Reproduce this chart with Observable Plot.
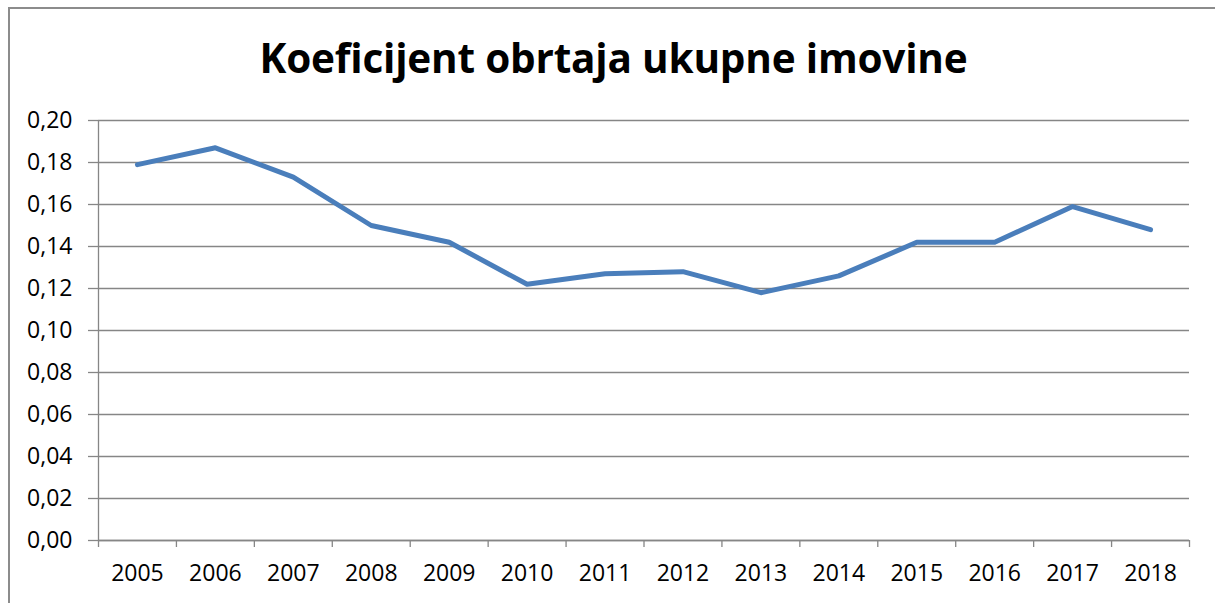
<!DOCTYPE html>
<html>
<head>
<meta charset="utf-8">
<script src="https://cdn.jsdelivr.net/npm/d3@7"></script>
<script src="https://cdn.jsdelivr.net/npm/@observablehq/plot@0.6"></script>
<style>
  html, body { margin: 0; padding: 0; background: #fff; }
  #wrap { position: relative; width: 1215px; height: 603px; overflow: hidden; }
  #frame { position: absolute; left: 8px; top: 7px; width: 1220px; height: 620px; border: 2px solid #8c8c8c; box-sizing: border-box; pointer-events: none; }
  #title { position: absolute; left: 6px; top: 30px; width: 1215px; text-align: center; font-family: "Open Sans", sans-serif; font-weight: bold; font-size: 40.5px; color: #000; letter-spacing: -0.2px; }
  #chart { position: absolute; left: 0; top: 0; }
</style>
</head>
<body>
<div id="wrap">
  <div id="chart"></div>
  <div id="frame"></div>
  <div id="title">Koeficijent obrtaja ukupne imovine</div>
</div>
<script>
const years = [2005, 2006, 2007, 2008, 2009, 2010, 2011, 2012, 2013, 2014, 2015, 2016, 2017, 2018];
const values = [0.179, 0.187, 0.173, 0.150, 0.142, 0.122, 0.127, 0.128, 0.118, 0.126, 0.142, 0.142, 0.159, 0.148];
const yTicks = [0, 0.02, 0.04, 0.06, 0.08, 0.10, 0.12, 0.14, 0.16, 0.18, 0.20];

const data = years.map((year, i) => ({year, value: values[i]}));
const boundaries = years.map(y => y - 0.5).concat([years[years.length - 1] + 0.5]);
const fmt = v => d3.format(".2f")(v).replace(".", ",");
const font = "'Open Sans', sans-serif";

const chart = Plot.plot({
  width: 1215,
  height: 603,
  marginLeft: 98,
  marginRight: 26,
  marginTop: 120,
  marginBottom: 63,
  style: {fontFamily: font, fontSize: "23px", color: "#000", background: "transparent"},
  x: {type: "linear", domain: [years[0] - 0.5, years[years.length - 1] + 0.5]},
  y: {domain: [0, 0.20]},
  marks: [
    Plot.gridY(yTicks, {stroke: "#868686", strokeOpacity: 1, strokeWidth: 1.3}),
    Plot.axisY(yTicks, {tickSize: 10, tickPadding: 16, tickFormat: fmt, stroke: "#868686", strokeWidth: 1.3, label: null, fill: "#000", fontSize: 23}),
    Plot.ruleX([years[0] - 0.5], {stroke: "#868686", strokeWidth: 1.3}),
    Plot.axisX(boundaries, {tickSize: 7, tickFormat: () => "", stroke: "#868686", strokeWidth: 1.3, label: null}),
    Plot.axisX(years, {tickSize: 0, tickPadding: 24, tickFormat: d => String(d), label: null, fill: "#000", fontSize: 23}),
    Plot.ruleY([0], {stroke: "#868686", strokeWidth: 1.3}),
    Plot.line(data, {x: "year", y: "value", stroke: "#4a7ebb", strokeWidth: 5, strokeLinejoin: "round", strokeLinecap: "round"})
  ]
});
document.getElementById("chart").appendChild(chart);
</script>
</body>
</html>
